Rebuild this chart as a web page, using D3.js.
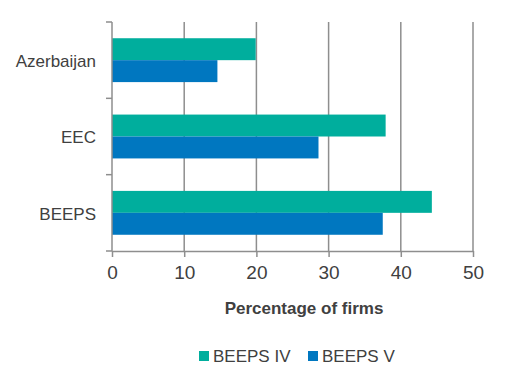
<!DOCTYPE html>
<html>
<head>
<meta charset="utf-8">
<script src="https://cdn.jsdelivr.net/npm/d3@7"></script>
<style>
  body { margin: 0; background: #fff; }
  text { font-family: "Liberation Sans Narrow", "Liberation Sans", sans-serif; fill: #404040; }
</style>
</head>
<body>
<div id="chart"></div>
<script>
// data
var categories = ["Azerbaijan", "EEC", "BEEPS"];
var seriesNames = ["BEEPS IV", "BEEPS V"];
var beepsIV = [19.9, 37.9, 44.3];
var beepsV = [14.6, 28.6, 37.5];
var xTicks = [0, 10, 20, 30, 40, 50];

var colors = ["#00AE9D", "#0077C0"];
var gridColor = "#8E8E8E";

var margin = {top: 22, left: 112},
    width = 361,
    height = 229;

var svg = d3.select("#chart")
    .append("svg")
    .attr("width", 508)
    .attr("height", 384);

var g = svg.append("g")
    .attr("transform", "translate(" + margin.left + "," + margin.top + ")");

var x = d3.scaleLinear()
    .domain([0, 50])
    .range([0, width]);

var y = d3.scaleBand()
    .domain(categories)
    .range([0, height]);

var inner = d3.scaleBand()
    .domain(seriesNames)
    .range([0, y.bandwidth()])
    .paddingOuter(0.74)
    .paddingInner(0);

// vertical gridlines
g.selectAll(".grid")
    .data(xTicks.slice(1))
    .enter()
    .append("line")
    .attr("x1", function (d) { return x(d); })
    .attr("x2", function (d) { return x(d); })
    .attr("y1", 0)
    .attr("y2", height)
    .attr("stroke", gridColor)
    .attr("stroke-width", 1.5);

// bars
var rows = categories.map(function (c, i) {
    return {cat: c, vals: [beepsIV[i], beepsV[i]]};
});

var grp = g.selectAll(".row")
    .data(rows)
    .enter()
    .append("g")
    .attr("transform", function (d) { return "translate(0," + y(d.cat) + ")"; });

grp.selectAll("rect")
    .data(function (d) { return d.vals.map(function (v, j) { return {s: seriesNames[j], v: v, j: j}; }); })
    .enter()
    .append("rect")
    .attr("x", x(0))
    .attr("y", function (d) { return inner(d.s); })
    .attr("width", function (d) { return x(d.v) - x(0); })
    .attr("height", inner.bandwidth())
    .attr("fill", function (d) { return colors[d.j]; });

// X axis
var xAxis = g.append("g")
    .attr("transform", "translate(0," + height + ")")
    .call(d3.axisBottom(x).tickValues(xTicks).tickSize(6).tickPadding(9).tickSizeOuter(0));
xAxis.select(".domain").attr("stroke", gridColor).attr("stroke-width", 1.5);
xAxis.selectAll("line").attr("stroke", gridColor).attr("stroke-width", 1.5);
xAxis.selectAll("text").style("font-size", "19px").attr("fill", "#505050");

// Y axis, ticks at band edges
var yAxis = g.append("g");
yAxis.append("line")
    .attr("x1", 0).attr("x2", 0)
    .attr("y1", 0).attr("y2", height)
    .attr("stroke", gridColor).attr("stroke-width", 1.5);
var edges = categories.map(function (c) { return y(c); }).concat([height]);
yAxis.selectAll(".edge")
    .data(edges)
    .enter()
    .append("line")
    .attr("x1", -6).attr("x2", 0)
    .attr("y1", function (d) { return d; })
    .attr("y2", function (d) { return d; })
    .attr("stroke", gridColor).attr("stroke-width", 1.5);
yAxis.selectAll(".lab")
    .data(categories)
    .enter()
    .append("text")
    .attr("x", -16)
    .attr("y", function (d) { return y(d) + y.bandwidth() / 2 + 1; })
    .attr("dy", "0.35em")
    .attr("text-anchor", "end")
    .style("font-size", "17px")
    .text(function (d) { return d; });

// axis title
svg.append("text")
    .attr("x", 304)
    .attr("y", 314)
    .attr("text-anchor", "middle")
    .style("font-size", "17px")
    .style("font-weight", "bold")
    .text("Percentage of firms");

// legend
var legendX = [199, 308];
var leg = svg.selectAll(".leg")
    .data(seriesNames)
    .enter()
    .append("g")
    .attr("transform", function (d, i) { return "translate(" + legendX[i] + ",351)"; });
leg.append("rect")
    .attr("width", 10).attr("height", 10)
    .attr("fill", function (d, i) { return colors[i]; });
leg.append("text")
    .attr("x", 14)
    .attr("y", 5)
    .attr("dy", "0.35em")
    .style("font-size", "17px")
    .text(function (d) { return d; });
</script>
</body>
</html>
